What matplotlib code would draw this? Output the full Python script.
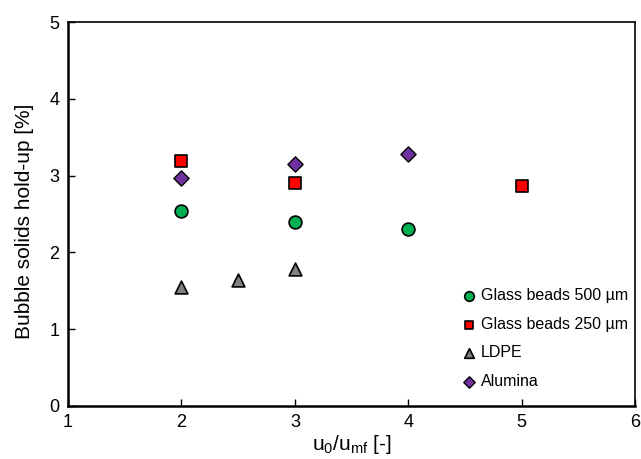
import matplotlib.pyplot as plt

plt.rcParams['font.family'] = ['Liberation Sans', 'DejaVu Sans']
plt.rcParams['mathtext.fontset'] = 'custom'
plt.rcParams['mathtext.rm'] = 'Liberation Sans'

# bubble solids hold-up vs. excess gas velocity ratio
gb500_x = [2, 3, 4]
gb500_y = [2.54, 2.40, 2.30]
gb250_x = [2, 3, 5]
gb250_y = [3.19, 2.90, 2.87]
ldpe_x = [2, 2.5, 3]
ldpe_y = [1.55, 1.64, 1.79]
alumina_x = [2, 3, 4]
alumina_y = [2.97, 3.15, 3.28]

fig = plt.figure(figsize=(6.41, 4.59), dpi=100)
ax = fig.add_axes([0.106, 0.1155, 0.885, 0.8365])

ax.scatter(gb500_x, gb500_y, s=85, marker="o", color="#00B050", edgecolors="black", linewidths=1.2,
           label="Glass beads 500 \u00b5m", zorder=3)
ax.scatter(gb250_x, gb250_y, s=70, marker="s", color="#FF0000", edgecolors="black", linewidths=1.2,
           label="Glass beads 250 \u00b5m", zorder=3)
ax.scatter(ldpe_x, ldpe_y, s=85, marker="^", color="#808080", edgecolors="black", linewidths=1.2,
           label="LDPE", zorder=3)
ax.scatter(alumina_x, alumina_y, s=60, marker="D", color="#7030A0", edgecolors="black", linewidths=1.0,
           label="Alumina", zorder=3)

ax.set_xlim(1, 6)
ax.set_ylim(0, 5)
ax.set_xticks([1, 2, 3, 4, 5, 6])
ax.set_yticks([0, 1, 2, 3, 4, 5])
ax.tick_params(direction="in", length=5, width=1, labelsize=13, pad=6)

ax.spines["left"].set_linewidth(1.8)
ax.spines["bottom"].set_linewidth(1.8)
ax.spines["top"].set_linewidth(1.2)
ax.spines["right"].set_linewidth(1.2)

ax.set_xlabel("u$_0$/u$_{\\mathrm{mf}}$ [-]", fontsize=15, labelpad=1)
ax.set_ylabel("Bubble solids hold-up [%]", fontsize=15)
ax.yaxis.set_label_coords(-0.06, 0.482)

ax.legend(loc="lower right", frameon=False, fontsize=11.5, markerscale=0.75, handlelength=1.0,
          handletextpad=0.25, labelspacing=0.85, borderaxespad=0, borderpad=0.4,
          bbox_to_anchor=(0.998, 0.028))

plt.savefig("out.png", dpi=100)
